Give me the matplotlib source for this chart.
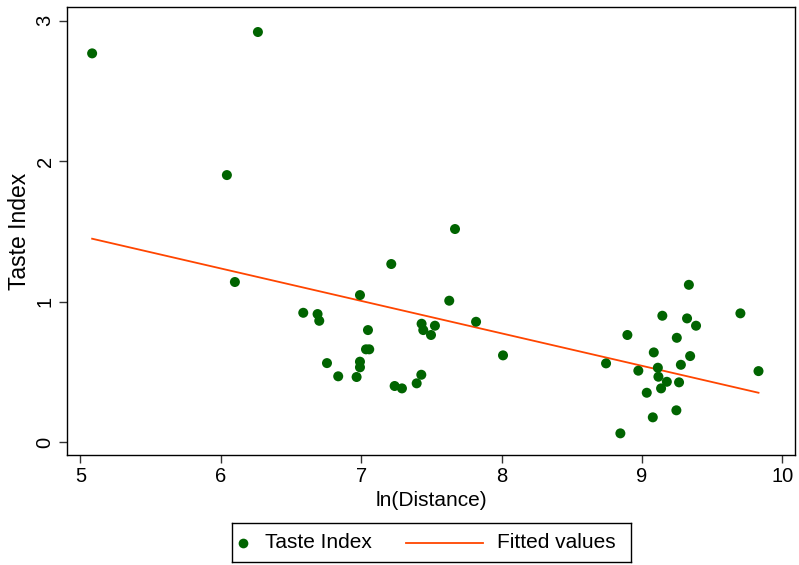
import numpy as np
import matplotlib
matplotlib.use("Agg")
import matplotlib.pyplot as plt
from matplotlib.lines import Line2D

plt.rcParams['font.family'] = ['Liberation Sans', 'DejaVu Sans']

ln_distance = [5.083, 6.264, 6.043, 6.100, 6.587, 6.689, 6.701, 6.756, 6.836, 6.967,
               6.991, 6.991, 6.991, 7.034, 7.057, 7.048, 7.214, 7.238, 7.290, 7.395,
               7.428, 7.430, 7.442, 7.497, 7.525, 7.627, 7.668, 7.818, 8.010,
               9.334, 9.701, 9.145, 9.321, 9.385, 8.896, 9.248, 9.084, 9.343, 8.744,
               9.277, 8.974, 9.113, 9.117, 9.177, 9.136, 9.264, 9.034, 9.245, 9.077,
               8.846, 9.830]
taste_index = [2.768, 2.920, 1.902, 1.141, 0.922, 0.913, 0.865, 0.564, 0.470, 0.465,
               0.574, 0.534, 1.048, 0.662, 0.662, 0.799, 1.269, 0.401, 0.384, 0.420,
               0.481, 0.844, 0.799, 0.764, 0.830, 1.008, 1.518, 0.858, 0.619,
               1.121, 0.918, 0.901, 0.882, 0.830, 0.764, 0.744, 0.640, 0.614, 0.562,
               0.552, 0.510, 0.531, 0.467, 0.431, 0.384, 0.427, 0.353, 0.228, 0.178,
               0.064, 0.507]

x_ticks = [5, 6, 7, 8, 9, 10]
y_ticks = [0, 1, 2, 3]
legend_labels = ['Taste Index', 'Fitted values']

x = np.array(ln_distance)
y = np.array(taste_index)
slope, intercept = np.polyfit(x, y, 1)
xf = np.array([x.min(), x.max()])
yf = intercept + slope * xf

W, H = 799, 565
fig = plt.figure(figsize=(W / 100, H / 100), dpi=100)
L, R, T, B = 67, 795, 7, 455
ax = fig.add_axes([L / W, 1 - B / H, (R - L) / W, (B - T) / H])

green = '#006400'
orange = '#FF4500'
ax.scatter(x, y, s=52, color=green, edgecolors='none', zorder=3)
ax.plot(xf, yf, color=orange, lw=1.3, zorder=2)

ax.set_xlim(4.904, 10.09)
ax.set_ylim(-0.090, 3.098)
ax.set_xticks(x_ticks)
ax.set_yticks(y_ticks)
ax.tick_params(axis='both', direction='out', length=6, width=1, color='#333333', labelsize=14.5, pad=3)
for lab in ax.get_yticklabels():
    lab.set_rotation(90)
    lab.set_va('center')
for s in ax.spines.values():
    s.set_color('black')
    s.set_linewidth(1)

ax.set_xlabel('ln(Distance)', fontsize=15, labelpad=3)
ax.set_ylabel('Taste Index', fontsize=16.5, labelpad=3)

# legend box below the plot
lx0, lx1, ly0, ly1 = 232, 631, 523, 562
lax = fig.add_axes([lx0 / W, 1 - ly1 / H, (lx1 - lx0) / W, (ly1 - ly0) / H])
lax.set_xlim(0, lx1 - lx0)
lax.set_ylim(0, ly1 - ly0)
lax.set_xticks([])
lax.set_yticks([])
for s in lax.spines.values():
    s.set_color('black')
    s.set_linewidth(1)
yc = (ly1 - ly0) / 2
lax.add_line(Line2D([11], [yc], marker='o', ls='none', color=green, markersize=7, markeredgewidth=0))
lax.text(33, yc, legend_labels[0], fontsize=15, va='center', ha='left')
lax.add_line(Line2D([174, 251], [yc, yc], color=orange, lw=1.3))
lax.text(265, yc, legend_labels[1], fontsize=15, va='center', ha='left')

fig.savefig('out.png', dpi=100)
